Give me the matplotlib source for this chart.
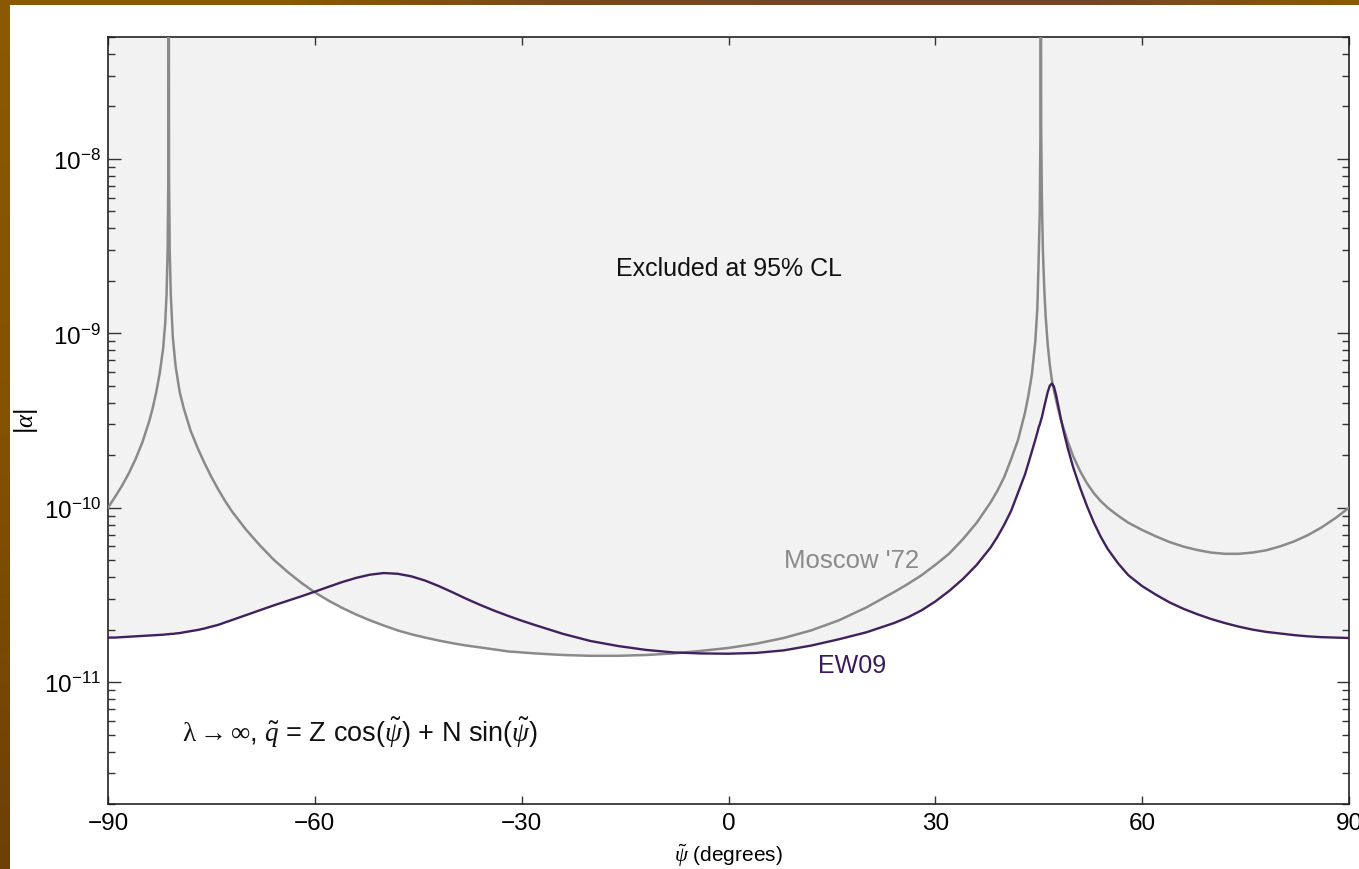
import numpy as np
import matplotlib
matplotlib.use('Agg')
import matplotlib.pyplot as plt
from matplotlib.colors import LinearSegmentedColormap
from matplotlib.ticker import LogLocator, FixedLocator, NullLocator

plt.rcParams['font.family'] = ['Liberation Sans', 'DejaVu Sans']
plt.rcParams['mathtext.fontset'] = 'custom'
plt.rcParams['mathtext.rm'] = 'Liberation Sans'
plt.rcParams['mathtext.it'] = 'Liberation Serif:italic'
plt.rcParams['mathtext.bf'] = 'Liberation Serif'   # serif droit (lambda)
plt.rcParams['mathtext.sf'] = 'Liberation Sans'
plt.rcParams['mathtext.default'] = 'regular'

# ============================================================================
# DONNEES
# ============================================================================

psi = [-90, -89, -88, -87, -86, -85, -84, -83.5, -83, -82.5, -82, -81.7, -81.5,
       -81.35, -81.25, -81.2, -81.15, -81.05, -80.9, -80.6, -80.2, -79.6, -79,
       -78, -77, -76, -75, -74, -73, -72, -70, -68, -66, -64, -62, -60, -58,
       -56, -54, -52, -50, -48, -46, -44, -42, -40, -38, -36, -34, -32, -30,
       -28, -24, -20, -16, -12, -8, -4, 0, 4, 8, 12, 16, 20, 24, 26, 28, 30,
       32, 34, 36, 38, 39, 40, 41, 42, 43, 43.5, 44, 44.5, 44.8, 45.0, 45.15,
       45.25, 45.3, 45.35, 45.45, 45.6, 45.8, 46.0, 46.3, 46.6, 46.9, 47.2,
       47.5, 47.8, 48.2, 48.6, 49.2, 50, 51, 52, 53, 54, 55, 56.5, 58, 60, 62,
       64, 66, 68, 70, 72, 74, 76, 78, 80, 82, 84, 86, 88, 90]

moscow72 = [1.0e-10, 1.15e-10, 1.33e-10, 1.57e-10, 1.9e-10, 2.38e-10, 3.15e-10,
            3.75e-10, 4.6e-10, 5.9e-10, 8.2e-10, 1.15e-9, 1.7e-9,
            3.0e-9, 8e-9, 1e-6, 8e-9, 3.0e-9, 1.7e-9, 9.5e-10, 6.5e-10, 4.6e-10, 3.7e-10,
            2.75e-10, 2.2e-10, 1.8e-10, 1.5e-10, 1.27e-10, 1.09e-10, 9.5e-11,
            7.5e-11, 6.1e-11, 5.05e-11, 4.3e-11, 3.72e-11, 3.27e-11, 2.93e-11,
            2.66e-11, 2.44e-11, 2.26e-11, 2.11e-11, 1.98e-11, 1.88e-11, 1.8e-11,
            1.73e-11, 1.67e-11, 1.62e-11, 1.58e-11, 1.54e-11, 1.5e-11, 1.48e-11,
            1.46e-11, 1.43e-11, 1.415e-11, 1.415e-11, 1.43e-11, 1.46e-11, 1.51e-11,
            1.57e-11, 1.66e-11, 1.79e-11, 1.98e-11, 2.26e-11, 2.68e-11, 3.28e-11,
            3.65e-11, 4.1e-11, 4.7e-11,
            5.45e-11, 6.6e-11, 8.2e-11, 1.07e-10, 1.25e-10, 1.5e-10, 1.9e-10,
            2.45e-10, 3.5e-10, 4.4e-10, 5.8e-10, 9e-10, 1.4e-9, 2.8e-9, 5e-9,
            1.5e-8, 1e-6, 1.5e-8, 6e-9, 3e-9, 1.8e-9, 1.25e-9, 8.6e-10, 6.6e-10,
            5.4e-10, 4.7e-10,
            4.15e-10, 3.7e-10, 3.2e-10, 2.85e-10, 2.4e-10, 1.97e-10, 1.62e-10,
            1.38e-10, 1.21e-10, 1.09e-10, 1.0e-10, 9.0e-11, 8.2e-11, 7.45e-11,
            6.85e-11,
            6.35e-11, 5.98e-11, 5.72e-11, 5.53e-11, 5.44e-11, 5.44e-11, 5.53e-11,
            5.7e-11, 6.0e-11, 6.4e-11, 6.95e-11, 7.7e-11, 8.7e-11, 1.0e-10]

ew09 = [1.8e-11, 1.8e-11, 1.81e-11, 1.82e-11, 1.83e-11, 1.84e-11, 1.85e-11,
        1.855e-11, 1.86e-11, 1.865e-11, 1.87e-11, 1.875e-11, 1.88e-11,
        1.88e-11, 1.88e-11, 1.885e-11, 1.885e-11, 1.885e-11, 1.89e-11, 1.89e-11,
        1.9e-11, 1.91e-11, 1.93e-11,
        1.96e-11, 1.99e-11, 2.03e-11, 2.08e-11, 2.13e-11, 2.2e-11, 2.27e-11,
        2.42e-11, 2.58e-11, 2.75e-11, 2.92e-11, 3.1e-11, 3.3e-11, 3.52e-11,
        3.75e-11, 3.96e-11, 4.13e-11, 4.22e-11, 4.18e-11, 4.04e-11, 3.82e-11,
        3.55e-11, 3.27e-11, 3.0e-11, 2.77e-11, 2.57e-11, 2.4e-11, 2.25e-11,
        2.12e-11, 1.89e-11, 1.72e-11, 1.61e-11, 1.53e-11, 1.48e-11, 1.46e-11,
        1.455e-11, 1.47e-11, 1.52e-11, 1.62e-11, 1.76e-11, 1.93e-11, 2.18e-11,
        2.35e-11, 2.58e-11, 2.9e-11,
        3.33e-11, 3.9e-11, 4.7e-11, 5.9e-11, 6.8e-11, 8.0e-11, 9.6e-11,
        1.22e-10, 1.55e-10, 1.8e-10, 2.1e-10, 2.45e-10, 2.7e-10, 2.9e-10, 3.0e-10,
        3.1e-10, 3.15e-10, 3.2e-10, 3.3e-10, 3.5e-10, 3.8e-10, 4.1e-10, 4.6e-10,
        5.0e-10, 5.15e-10, 4.95e-10,
        4.45e-10, 3.9e-10, 3.25e-10, 2.75e-10, 2.2e-10, 1.7e-10, 1.3e-10,
        1.02e-10, 8.2e-11, 6.8e-11, 5.8e-11, 4.8e-11, 4.1e-11, 3.55e-11,
        3.17e-11,
        2.86e-11, 2.63e-11, 2.45e-11, 2.3e-11, 2.18e-11, 2.08e-11, 2.0e-11,
        1.94e-11, 1.9e-11, 1.86e-11, 1.83e-11, 1.81e-11, 1.8e-11, 1.79e-11]

x_ticks = [-90, -60, -30, 0, 30, 60, 90]
x_labels = ['\u221290', '\u221260', '\u221230', '0', '30', '60', '90']

psi = np.array(psi)
moscow72 = np.array(moscow72)
ew09 = np.array(ew09)

# ============================================================================
# FIGURE
# ============================================================================

fig = plt.figure(figsize=(13.59, 8.70), dpi=100)
fig.patch.set_facecolor('white')

# bordure doree (gauche et haut)
gauche = LinearSegmentedColormap.from_list('g', ['#8b5a00', '#835200', '#6e3f08'])
haut = LinearSegmentedColormap.from_list('h', ['#8b5a00', '#8b5a00', '#7a4a1a',
                                               '#734528', '#734528', '#8b5a00'])
bg1 = fig.add_axes([0, 0, 10 / 1359, 1])
bg1.imshow(np.linspace(0, 1, 256).reshape(-1, 1), aspect='auto', cmap=gauche)
bg1.axis('off')
bg2 = fig.add_axes([0, 1 - 6 / 870, 1, 6 / 870])
bg2.imshow(np.linspace(0, 1, 256).reshape(1, -1), aspect='auto', cmap=haut)
bg2.axis('off')

ax = fig.add_axes([108 / 1359, 1 - 805 / 870, 1241 / 1359, 767 / 870])

ylo, yhi = 2e-12, 5e-8

# zone exclue
ax.fill_between(psi, np.minimum(moscow72, ew09), 1e-5, color='#f2f2f2', lw=0, zorder=1)

ax.plot(psi, moscow72, color='#8a8a8a', lw=1.8, zorder=3)
ax.plot(psi, ew09, color='#40215e', lw=1.7, zorder=4)

ax.set_yscale('log')
ax.set_xlim(-90, 90)
ax.set_ylim(ylo, yhi)

ax.xaxis.set_major_locator(FixedLocator(x_ticks))
ax.xaxis.set_minor_locator(NullLocator())
ax.yaxis.set_major_locator(LogLocator(base=10, numticks=20))
ax.yaxis.set_minor_locator(LogLocator(base=10, subs=np.arange(2, 10), numticks=20))

ax.tick_params(axis='both', which='both', direction='in', top=True, right=True,
               labelsize=17.5, width=1, color='#333333')
ax.tick_params(axis='y', which='major', length=9, pad=5)
ax.tick_params(axis='y', which='minor', length=5)
ax.tick_params(axis='x', which='major', length=6, pad=6)
ax.set_xticklabels(x_labels)

for s in ax.spines.values():
    s.set_linewidth(1.2)
    s.set_color('#222222')

ax.set_xlabel(r'$\mathit{\tilde{\psi}}$ (degrees)', fontsize=15)
ax.xaxis.set_label_coords(0.5, -0.049)
ax.set_ylabel(r'$\mathit{|\alpha|}$', fontsize=18)
ax.yaxis.set_label_coords(-0.055, 0.5)

ax.text(0, 2.15e-9, 'Excluded at 95% CL', ha='center', va='baseline',
        fontsize=18, color='#111111')
ax.text(17.9, 4.56e-11, "Moscow '72", ha='center', va='baseline',
        fontsize=18.5, color='#8a8a8a')
ax.text(17.9, 1.14e-11, 'EW09', ha='center', va='baseline',
        fontsize=18, color='#3a1a5c')
ax.text(-79.3, 4.6e-12,
        r'$\mathbf{\lambda \rightarrow \infty}$, $\mathit{\tilde{q}}$ = Z cos($\mathit{\tilde{\psi}}$)'
        r' + N sin($\mathit{\tilde{\psi}}$)',
        ha='left', va='baseline', fontsize=19.5, color='#111111')

fig.savefig('out.png', dpi=100)
